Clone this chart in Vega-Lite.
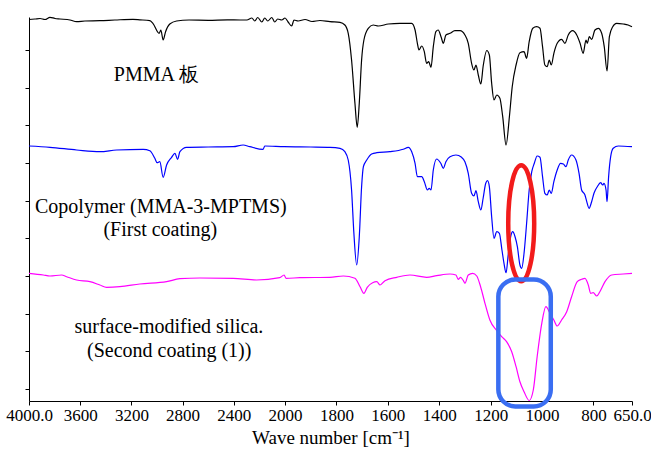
{
  "$schema": "https://vega.github.io/schema/vega-lite/v6.json",
  "width": 603,
  "height": 384,
  "autosize": {"type": "none"},
  "padding": {"left": 29, "top": 17, "right": 19, "bottom": 50},
  "background": "white",
  "config": {
    "view": {"stroke": null},
    "font": "Liberation Serif, Times New Roman, Times, serif",
    "axis": {"grid": false, "domainColor": "black", "tickColor": "black", "labelColor": "black", "titleColor": "black", "labelFont": "Liberation Serif, Times New Roman, Times, serif", "titleFont": "Liberation Serif, Times New Roman, Times, serif", "titleFontWeight": "normal"}
  },
  "datasets": {
    "spectra": [
      {"s":"PMMA","wn":4000,"T":381.5},{"s":"PMMA","wn":3953,"T":382},{"s":"PMMA","wn":3914,"T":382.5},{"s":"PMMA","wn":3875,"T":381.5},{"s":"PMMA","wn":3836,"T":383.7},{"s":"PMMA","wn":3797,"T":382.5},{"s":"PMMA","wn":3758,"T":382},{"s":"PMMA","wn":3680,"T":381},{"s":"PMMA","wn":3628,"T":379.3},{"s":"PMMA","wn":3563,"T":380},{"s":"PMMA","wn":3446,"T":380.3},{"s":"PMMA","wn":3329,"T":381},{"s":"PMMA","wn":3188,"T":381.7},{"s":"PMMA","wn":3134,"T":381.2},{"s":"PMMA","wn":3056,"T":380.3},{"s":"PMMA","wn":3032,"T":377.7},{"s":"PMMA","wn":2983,"T":367.7},{"s":"PMMA","wn":2970,"T":371},{"s":"PMMA","wn":2952,"T":361},{"s":"PMMA","wn":2933,"T":369.3},{"s":"PMMA","wn":2900,"T":377},{"s":"PMMA","wn":2847,"T":380},{"s":"PMMA","wn":2750,"T":381},{"s":"PMMA","wn":2600,"T":380.7},{"s":"PMMA","wn":2450,"T":381.2},{"s":"PMMA","wn":2350,"T":381},{"s":"PMMA","wn":2298,"T":381},{"s":"PMMA","wn":2259,"T":383},{"s":"PMMA","wn":2236,"T":380},{"s":"PMMA","wn":2213,"T":383.5},{"s":"PMMA","wn":2181,"T":379},{"s":"PMMA","wn":2158,"T":383},{"s":"PMMA","wn":2135,"T":380},{"s":"PMMA","wn":2103,"T":383.5},{"s":"PMMA","wn":2080,"T":379},{"s":"PMMA","wn":2057,"T":382},{"s":"PMMA","wn":2025,"T":381},{"s":"PMMA","wn":2000,"T":383},{"s":"PMMA","wn":1988,"T":379},{"s":"PMMA","wn":1974,"T":375},{"s":"PMMA","wn":1965,"T":381},{"s":"PMMA","wn":1949,"T":380},{"s":"PMMA","wn":1922,"T":381.5},{"s":"PMMA","wn":1895,"T":379.5},{"s":"PMMA","wn":1864,"T":380.5},{"s":"PMMA","wn":1825,"T":379.3},{"s":"PMMA","wn":1786,"T":378.7},{"s":"PMMA","wn":1767,"T":376},{"s":"PMMA","wn":1754,"T":367.7},{"s":"PMMA","wn":1741,"T":341},{"s":"PMMA","wn":1728,"T":298},{"s":"PMMA","wn":1719,"T":273.7},{"s":"PMMA","wn":1711,"T":298},{"s":"PMMA","wn":1702,"T":341},{"s":"PMMA","wn":1693,"T":361},{"s":"PMMA","wn":1676,"T":372.7},{"s":"PMMA","wn":1657,"T":376},{"s":"PMMA","wn":1637,"T":375},{"s":"PMMA","wn":1598,"T":377},{"s":"PMMA","wn":1553,"T":377.7},{"s":"PMMA","wn":1507,"T":377.7},{"s":"PMMA","wn":1494,"T":371},{"s":"PMMA","wn":1485,"T":357.7},{"s":"PMMA","wn":1479,"T":351},{"s":"PMMA","wn":1468,"T":355},{"s":"PMMA","wn":1458,"T":349.3},{"s":"PMMA","wn":1449,"T":337.7},{"s":"PMMA","wn":1441,"T":339.3},{"s":"PMMA","wn":1432,"T":333.7},{"s":"PMMA","wn":1423,"T":354.3},{"s":"PMMA","wn":1413,"T":369.3},{"s":"PMMA","wn":1404,"T":371},{"s":"PMMA","wn":1393,"T":364.3},{"s":"PMMA","wn":1384,"T":357.7},{"s":"PMMA","wn":1374,"T":366},{"s":"PMMA","wn":1358,"T":367.7},{"s":"PMMA","wn":1339,"T":370.3},{"s":"PMMA","wn":1319,"T":370.3},{"s":"PMMA","wn":1300,"T":366},{"s":"PMMA","wn":1287,"T":357.7},{"s":"PMMA","wn":1274,"T":337.7},{"s":"PMMA","wn":1265,"T":331},{"s":"PMMA","wn":1257,"T":336},{"s":"PMMA","wn":1248,"T":326},{"s":"PMMA","wn":1238,"T":317},{"s":"PMMA","wn":1229,"T":335},{"s":"PMMA","wn":1215,"T":350.5},{"s":"PMMA","wn":1205,"T":346},{"s":"PMMA","wn":1196,"T":317.7},{"s":"PMMA","wn":1187,"T":301},{"s":"PMMA","wn":1176,"T":306},{"s":"PMMA","wn":1164,"T":302.7},{"s":"PMMA","wn":1153,"T":284.3},{"s":"PMMA","wn":1140,"T":256},{"s":"PMMA","wn":1127,"T":284.3},{"s":"PMMA","wn":1116,"T":314.3},{"s":"PMMA","wn":1101,"T":336},{"s":"PMMA","wn":1086,"T":348.3},{"s":"PMMA","wn":1070,"T":349.3},{"s":"PMMA","wn":1060,"T":342.7},{"s":"PMMA","wn":1050,"T":359.3},{"s":"PMMA","wn":1036,"T":372.7},{"s":"PMMA","wn":1021,"T":374.3},{"s":"PMMA","wn":1008,"T":372.7},{"s":"PMMA","wn":998,"T":354.3},{"s":"PMMA","wn":989,"T":336},{"s":"PMMA","wn":980,"T":334.3},{"s":"PMMA","wn":972,"T":341},{"s":"PMMA","wn":964,"T":336},{"s":"PMMA","wn":954,"T":347.7},{"s":"PMMA","wn":941,"T":357.7},{"s":"PMMA","wn":924,"T":361.7},{"s":"PMMA","wn":911,"T":357.7},{"s":"PMMA","wn":898,"T":366},{"s":"PMMA","wn":881,"T":370.3},{"s":"PMMA","wn":865,"T":366},{"s":"PMMA","wn":852,"T":357.7},{"s":"PMMA","wn":840,"T":347.7},{"s":"PMMA","wn":829,"T":361},{"s":"PMMA","wn":824,"T":357.7},{"s":"PMMA","wn":816,"T":364.3},{"s":"PMMA","wn":807,"T":361.7},{"s":"PMMA","wn":794,"T":371},{"s":"PMMA","wn":781,"T":372.7},{"s":"PMMA","wn":768,"T":367.7},{"s":"PMMA","wn":758,"T":354.3},{"s":"PMMA","wn":747,"T":330},{"s":"PMMA","wn":738,"T":364.3},{"s":"PMMA","wn":725,"T":374.3},{"s":"PMMA","wn":710,"T":377.7},{"s":"PMMA","wn":684,"T":377},{"s":"PMMA","wn":665,"T":376},{"s":"PMMA","wn":650,"T":374.3},

      {"s":"Copolymer","wn":4000,"T":255},{"s":"Copolymer","wn":3836,"T":253.7},{"s":"Copolymer","wn":3628,"T":251},{"s":"Copolymer","wn":3446,"T":249.3},{"s":"Copolymer","wn":3316,"T":251},{"s":"Copolymer","wn":3108,"T":251.7},{"s":"Copolymer","wn":3056,"T":250.3},{"s":"Copolymer","wn":3017,"T":242.7},{"s":"Copolymer","wn":2999,"T":238.3},{"s":"Copolymer","wn":2978,"T":239.3},{"s":"Copolymer","wn":2952,"T":223.7},{"s":"Copolymer","wn":2925,"T":236},{"s":"Copolymer","wn":2886,"T":243.7},{"s":"Copolymer","wn":2860,"T":247.7},{"s":"Copolymer","wn":2839,"T":241.7},{"s":"Copolymer","wn":2821,"T":249.3},{"s":"Copolymer","wn":2769,"T":253.7},{"s":"Copolymer","wn":2600,"T":254},{"s":"Copolymer","wn":2405,"T":254.3},{"s":"Copolymer","wn":2327,"T":256},{"s":"Copolymer","wn":2275,"T":254.3},{"s":"Copolymer","wn":2171,"T":251.7},{"s":"Copolymer","wn":2158,"T":255},{"s":"Copolymer","wn":2007,"T":254.3},{"s":"Copolymer","wn":1900,"T":254},{"s":"Copolymer","wn":1825,"T":253.7},{"s":"Copolymer","wn":1786,"T":252.7},{"s":"Copolymer","wn":1767,"T":249.3},{"s":"Copolymer","wn":1754,"T":241},{"s":"Copolymer","wn":1741,"T":211},{"s":"Copolymer","wn":1732,"T":167.7},{"s":"Copolymer","wn":1721,"T":136},{"s":"Copolymer","wn":1711,"T":164.3},{"s":"Copolymer","wn":1702,"T":214.3},{"s":"Copolymer","wn":1695,"T":234.3},{"s":"Copolymer","wn":1682,"T":241},{"s":"Copolymer","wn":1663,"T":247},{"s":"Copolymer","wn":1643,"T":248.3},{"s":"Copolymer","wn":1592,"T":249.3},{"s":"Copolymer","wn":1540,"T":251.7},{"s":"Copolymer","wn":1520,"T":253.7},{"s":"Copolymer","wn":1507,"T":249.3},{"s":"Copolymer","wn":1494,"T":237.7},{"s":"Copolymer","wn":1485,"T":224.3},{"s":"Copolymer","wn":1468,"T":224.3},{"s":"Copolymer","wn":1458,"T":219.3},{"s":"Copolymer","wn":1446,"T":211},{"s":"Copolymer","wn":1439,"T":212.7},{"s":"Copolymer","wn":1432,"T":211},{"s":"Copolymer","wn":1423,"T":231},{"s":"Copolymer","wn":1410,"T":242},{"s":"Copolymer","wn":1394,"T":237.7},{"s":"Copolymer","wn":1384,"T":232.7},{"s":"Copolymer","wn":1374,"T":239.3},{"s":"Copolymer","wn":1358,"T":244.3},{"s":"Copolymer","wn":1335,"T":246},{"s":"Copolymer","wn":1313,"T":243.7},{"s":"Copolymer","wn":1300,"T":239.3},{"s":"Copolymer","wn":1287,"T":227.7},{"s":"Copolymer","wn":1274,"T":207.7},{"s":"Copolymer","wn":1265,"T":205},{"s":"Copolymer","wn":1257,"T":210.3},{"s":"Copolymer","wn":1248,"T":199.3},{"s":"Copolymer","wn":1238,"T":191},{"s":"Copolymer","wn":1229,"T":203},{"s":"Copolymer","wn":1219,"T":217.7},{"s":"Copolymer","wn":1212,"T":220.3},{"s":"Copolymer","wn":1205,"T":214.3},{"s":"Copolymer","wn":1196,"T":184.3},{"s":"Copolymer","wn":1187,"T":162.7},{"s":"Copolymer","wn":1176,"T":169.3},{"s":"Copolymer","wn":1166,"T":167.7},{"s":"Copolymer","wn":1156,"T":151},{"s":"Copolymer","wn":1148,"T":137.7},{"s":"Copolymer","wn":1140,"T":128.3},{"s":"Copolymer","wn":1131,"T":147.7},{"s":"Copolymer","wn":1122,"T":164.3},{"s":"Copolymer","wn":1114,"T":169.3},{"s":"Copolymer","wn":1105,"T":164.3},{"s":"Copolymer","wn":1096,"T":154.3},{"s":"Copolymer","wn":1086,"T":136},{"s":"Copolymer","wn":1079,"T":132.7},{"s":"Copolymer","wn":1070,"T":147.7},{"s":"Copolymer","wn":1060,"T":177.7},{"s":"Copolymer","wn":1050,"T":211},{"s":"Copolymer","wn":1040,"T":229.3},{"s":"Copolymer","wn":1030,"T":237.7},{"s":"Copolymer","wn":1019,"T":245},{"s":"Copolymer","wn":1008,"T":243.7},{"s":"Copolymer","wn":998,"T":224.3},{"s":"Copolymer","wn":989,"T":207.7},{"s":"Copolymer","wn":980,"T":206},{"s":"Copolymer","wn":972,"T":211},{"s":"Copolymer","wn":964,"T":207.7},{"s":"Copolymer","wn":954,"T":219.3},{"s":"Copolymer","wn":941,"T":231},{"s":"Copolymer","wn":928,"T":237.7},{"s":"Copolymer","wn":917,"T":237},{"s":"Copolymer","wn":907,"T":234.3},{"s":"Copolymer","wn":898,"T":241},{"s":"Copolymer","wn":885,"T":246},{"s":"Copolymer","wn":868,"T":241},{"s":"Copolymer","wn":856,"T":227.7},{"s":"Copolymer","wn":846,"T":211},{"s":"Copolymer","wn":833,"T":206},{"s":"Copolymer","wn":826,"T":199.3},{"s":"Copolymer","wn":817,"T":192.7},{"s":"Copolymer","wn":807,"T":199.3},{"s":"Copolymer","wn":798,"T":207.7},{"s":"Copolymer","wn":785,"T":214.3},{"s":"Copolymer","wn":772,"T":218.3},{"s":"Copolymer","wn":764,"T":216},{"s":"Copolymer","wn":759,"T":217.7},{"s":"Copolymer","wn":751,"T":211},{"s":"Copolymer","wn":747,"T":199.3},{"s":"Copolymer","wn":741,"T":224.3},{"s":"Copolymer","wn":733,"T":244.3},{"s":"Copolymer","wn":723,"T":252.7},{"s":"Copolymer","wn":703,"T":255},{"s":"Copolymer","wn":650,"T":254.3},

      {"s":"Silica","wn":4000,"T":127.7},{"s":"Silica","wn":3888,"T":126},{"s":"Silica","wn":3836,"T":125},{"s":"Silica","wn":3745,"T":126},{"s":"Silica","wn":3706,"T":124.3},{"s":"Silica","wn":3628,"T":121},{"s":"Silica","wn":3524,"T":119.3},{"s":"Silica","wn":3446,"T":116},{"s":"Silica","wn":3394,"T":113.7},{"s":"Silica","wn":3290,"T":114.3},{"s":"Silica","wn":3134,"T":117},{"s":"Silica","wn":2925,"T":119.3},{"s":"Silica","wn":2821,"T":122.3},{"s":"Silica","wn":2665,"T":123},{"s":"Silica","wn":2405,"T":122.7},{"s":"Silica","wn":2223,"T":121},{"s":"Silica","wn":2041,"T":123.3},{"s":"Silica","wn":2007,"T":126},{"s":"Silica","wn":1996,"T":122.7},{"s":"Silica","wn":1942,"T":123.3},{"s":"Silica","wn":1825,"T":123.7},{"s":"Silica","wn":1773,"T":125},{"s":"Silica","wn":1728,"T":122.7},{"s":"Silica","wn":1708,"T":114.3},{"s":"Silica","wn":1693,"T":107.7},{"s":"Silica","wn":1680,"T":113.7},{"s":"Silica","wn":1659,"T":118.3},{"s":"Silica","wn":1643,"T":119.3},{"s":"Silica","wn":1630,"T":116},{"s":"Silica","wn":1611,"T":120.3},{"s":"Silica","wn":1565,"T":123.7},{"s":"Silica","wn":1514,"T":126},{"s":"Silica","wn":1449,"T":123.7},{"s":"Silica","wn":1410,"T":125.3},{"s":"Silica","wn":1358,"T":127},{"s":"Silica","wn":1335,"T":126},{"s":"Silica","wn":1326,"T":121.7},{"s":"Silica","wn":1317,"T":123.7},{"s":"Silica","wn":1306,"T":120.3},{"s":"Silica","wn":1300,"T":117.7},{"s":"Silica","wn":1287,"T":126},{"s":"Silica","wn":1270,"T":127.7},{"s":"Silica","wn":1254,"T":125},{"s":"Silica","wn":1239,"T":114.3},{"s":"Silica","wn":1222,"T":97.7},{"s":"Silica","wn":1203,"T":81},{"s":"Silica","wn":1176,"T":70.3},{"s":"Silica","wn":1157,"T":64.3},{"s":"Silica","wn":1138,"T":59.3},{"s":"Silica","wn":1118,"T":49.3},{"s":"Silica","wn":1101,"T":34.3},{"s":"Silica","wn":1086,"T":19.3},{"s":"Silica","wn":1070,"T":9.3},{"s":"Silica","wn":1050,"T":0.5},{"s":"Silica","wn":1034,"T":11},{"s":"Silica","wn":1019,"T":44.3},{"s":"Silica","wn":1001,"T":77.7},{"s":"Silica","wn":985,"T":94.3},{"s":"Silica","wn":969,"T":87.7},{"s":"Silica","wn":954,"T":81},{"s":"Silica","wn":941,"T":75},{"s":"Silica","wn":924,"T":81},{"s":"Silica","wn":904,"T":89.3},{"s":"Silica","wn":885,"T":104.3},{"s":"Silica","wn":863,"T":119.3},{"s":"Silica","wn":846,"T":121.7},{"s":"Silica","wn":833,"T":122.7},{"s":"Silica","wn":820,"T":116},{"s":"Silica","wn":811,"T":107.7},{"s":"Silica","wn":801,"T":108.3},{"s":"Silica","wn":787,"T":105},{"s":"Silica","wn":775,"T":109.3},{"s":"Silica","wn":755,"T":119.3},{"s":"Silica","wn":729,"T":126},{"s":"Silica","wn":684,"T":127},{"s":"Silica","wn":650,"T":127.7}
    ],
    "labels": [
      {"t":"PMMA 板","wn":3005,"T":320},
      {"t":"Copolymer (MMA-3-MPTMS)","wn":2970,"T":187.7},
      {"t":"(First coating)","wn":2974,"T":165},
      {"t":"surface-modified silica.","wn":2907,"T":67.7},
      {"t":"(Second coating (1))","wn":2905,"T":44.3}
    ],
    "ellipse": [{"wn":1081,"T":177.7}],
    "box": [{"wn1":1170,"wn2":966,"T1":121.5,"T2":-5.5}]
  },
  "layer": [
    {
      "data": {"name": "spectra"},
      "mark": {"type": "line", "strokeWidth": 1.2, "interpolate": "monotone"},
      "encoding": {
        "x": {"field": "wn", "type": "quantitative",
          "scale": {"domain": [4000, 2000, 650], "range": [0, 256, 603], "nice": false, "zero": false},
          "axis": {"values": [4000,3600,3200,2800,2400,2000,1800,1600,1400,1200,1000,800,650],
            "labelExpr": "datum.value == 4000 ? '4000.0' : datum.value == 650 ? '650.0' : datum.label",
            "format": "d", "labelFontSize": 17, "labelPadding": 2, "tickSize": 4, "labelFlush": false, "labelOverlap": false,
            "title": "Wave number [cm⁻¹]", "titleFontSize": 19, "titlePadding": 5}},
        "y": {"field": "T", "type": "quantitative",
          "scale": {"domain": [0, 384], "nice": false, "zero": false},
          "axis": {"values": [11.85,30.7,49.55,68.4,87.25,106.1,124.95,143.8,162.65,181.5,200.35,219.2,238.05,256.9,275.75,294.6,313.45,332.3,351.15,370],
            "labels": false, "tickSize": 4, "title": null}},
        "color": {"field": "s", "type": "nominal",
          "scale": {"domain": ["PMMA", "Copolymer", "Silica"], "range": ["#000000", "#0000ff", "#ff00ff"]},
          "legend": null}
      }
    },
    {
      "data": {"name": "ellipse"},
      "mark": {"type": "point", "shape": "M0,-1 A0.224,1 0 1,1 0,1 A0.224,1 0 1,1 0,-1 Z", "size": 13456, "filled": false, "stroke": "#f21b1b", "strokeWidth": 4.5, "opacity": 1},
      "encoding": {
        "x": {"field": "wn", "type": "quantitative"},
        "y": {"field": "T", "type": "quantitative"}
      }
    },
    {
      "data": {"name": "box"},
      "mark": {"type": "rect", "fill": "transparent", "stroke": "#3a6ef2", "strokeWidth": 4.5, "cornerRadius": 17},
      "encoding": {
        "x": {"field": "wn1", "type": "quantitative"},
        "x2": {"field": "wn2"},
        "y": {"field": "T1", "type": "quantitative"},
        "y2": {"field": "T2"}
      }
    },
    {
      "data": {"name": "labels"},
      "mark": {"type": "text", "font": "Liberation Serif, Times New Roman, Times, serif", "fontSize": 20, "align": "center", "baseline": "alphabetic", "color": "black"},
      "encoding": {
        "x": {"field": "wn", "type": "quantitative"},
        "y": {"field": "T", "type": "quantitative"},
        "text": {"field": "t"}
      }
    }
  ]
}
